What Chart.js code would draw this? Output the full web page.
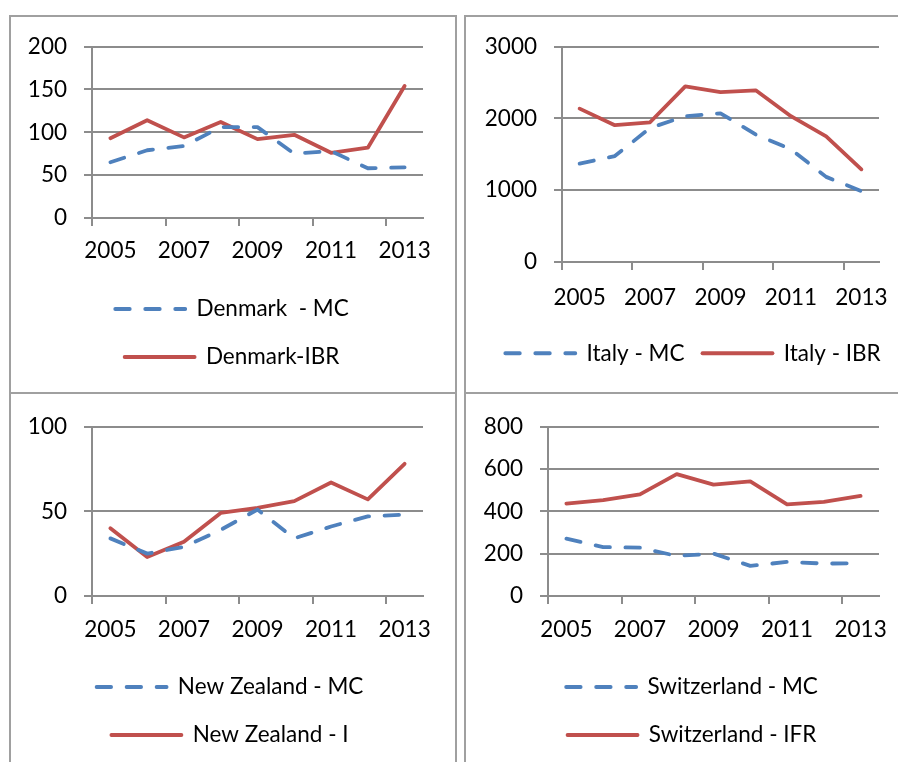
<!DOCTYPE html>
<html><head><meta charset="utf-8">
<script src="https://cdn.jsdelivr.net/npm/chart.js@4.4.0/dist/chart.umd.min.js"></script>
<style>
html,body{margin:0;padding:0;width:898px;height:762px;overflow:hidden;background:#fff;}
.ln{position:absolute;background:#a0a0a0;}
canvas{position:absolute;}
</style></head><body>
<div class="ln" style="left:9px;top:15px;width:448px;height:2px"></div>
<div class="ln" style="left:9px;top:15px;width:2px;height:747px"></div>
<div class="ln" style="left:455px;top:15px;width:2px;height:747px"></div>
<div class="ln" style="left:464px;top:15px;width:434px;height:2px"></div>
<div class="ln" style="left:464px;top:15px;width:2px;height:747px"></div>
<div class="ln" style="left:9px;top:392px;width:448px;height:2px"></div>
<div class="ln" style="left:464px;top:392px;width:434px;height:2px"></div>

<canvas id="c1" width="444" height="363" style="left:10px;top:16px"></canvas>
<canvas id="c2" width="454" height="359" style="left:466px;top:16px"></canvas>
<canvas id="c3" width="440" height="361" style="left:10px;top:396px"></canvas>
<canvas id="c4" width="452" height="361" style="left:466px;top:396px"></canvas>
<script>
// ---- data ----
const years = ['2005','2006','2007','2008','2009','2010','2011','2012','2013'];

const denmarkMC  = [65, 79, 84, 106, 106, 75, 78, 58, 59];
const denmarkIBR = [93, 114, 94, 112, 92, 97, 76, 82, 154];
const denmarkTicks = [0, 50, 100, 150, 200];

const italyMC  = [1370, 1475, 1865, 2030, 2070, 1775, 1570, 1185, 985];
const italyIBR = [2135, 1905, 1945, 2445, 2365, 2390, 2030, 1750, 1290];
const italyTicks = [0, 1000, 2000, 3000];

const nzMC = [34, 25, 29, 39, 51, 34, 41, 47, 48];
const nzI  = [40, 23, 32, 49, 52, 56, 67, 57, 78];
const nzTicks = [0, 50, 100];

const swMC  = [271, 231, 228, 189, 200, 142, 161, 153, 155];
const swIFR = [436, 452, 480, 575, 526, 541, 432, 444, 472];
const swTicks = [0, 200, 400, 600, 800];

// ---- style ----
const BLUE = '#4F81BD', RED = '#C0504D', GRID = '#8c8c8c';
const FONT = 'Lato', FS = 22.5, LW = 3.8;

function makeChart(id, o) {
  const ticks = o.ticks;
  new Chart(document.getElementById(id), {
    type: 'line',
    data: {
      labels: years,
      datasets: [
        {label: o.mcLabel, data: o.mc, borderColor: BLUE, backgroundColor: BLUE, borderWidth: LW,
         borderDash: [14.5, 15.5], borderCapStyle: 'round', borderJoinStyle: 'round',
         pointRadius: 0, tension: 0, fill: false},
        {label: o.rLabel, data: o.r, borderColor: RED, backgroundColor: RED, borderWidth: LW,
         borderDash: [], borderCapStyle: 'round', borderJoinStyle: 'round',
         pointRadius: 0, tension: 0, fill: false}
      ]
    },
    options: {
      responsive: false, animation: false, events: [],
      layout: {padding: {top: o.padTop, bottom: o.padBottom, left: 0, right: 0}},
      plugins: {
        legend: {position: 'bottom', align: 'center',
          labels: {usePointStyle: true, pointStyle: 'line', pointStyleWidth: 70,
                   padding: o.legPad, color: '#000', font: {family: FONT, size: FS},
                   generateLabels: chart => {
                     const items = Chart.defaults.plugins.legend.labels.generateLabels(chart);
                     return items.map(it => {
                       const ds = chart.data.datasets[it.datasetIndex];
                       return Object.assign(it, {
                         lineDash: ds.borderDash, lineCap: ds.borderCapStyle, lineJoin: ds.borderJoinStyle,
                         lineWidth: ds.borderWidth, strokeStyle: ds.borderColor, fillStyle: ds.borderColor,
                         pointStyle: 'line'
                       });
                     });
                   }}},
        tooltip: {enabled: false}
      },
      scales: {
        x: {
          type: 'category', offset: true,
          grid: {offset: true, drawOnChartArea: false, drawTicks: true, tickLength: 8, lineWidth: 2,
                 color: c => (c.index % 2 === 0 ? GRID : 'rgba(0,0,0,0)')},
          border: {display: true, color: GRID, width: 2},
          ticks: {autoSkip: false, maxRotation: 0, minRotation: 0, padding: o.xPad, color: '#000',
                  font: {family: FONT, size: FS},
                  callback: (v, i) => (i % 2 === 0 ? years[i] : '')},
          afterFit: s => { s.height = o.xHeight; }
        },
        y: {
          min: ticks[0], max: ticks[ticks.length - 1],
          grid: {color: GRID, lineWidth: 2, drawTicks: true, tickLength: 8},
          border: {display: true, color: GRID, width: 2},
          ticks: {stepSize: ticks[1] - ticks[0], padding: 17, color: '#000', font: {family: FONT, size: FS},
                  callback: v => String(v)},
          afterFit: s => { s.width = o.yWidth; }
        },
        pad: {
          type: 'linear', position: 'right', display: true,
          grid: {display: false}, border: {display: false}, ticks: {display: false},
          afterFit: s => { s.width = o.rightPad; }
        }
      }
    }
  });
}

makeChart('c1', {mcLabel: 'Denmark  - MC', rLabel: 'Denmark-IBR', mc: denmarkMC, r: denmarkIBR, ticks: denmarkTicks,
  yWidth: 82, rightPad: 31, padTop: 29, padBottom: 0.75, xPad: 11.5, xHeight: 54.25, legPad: 25.5});
makeChart('c2', {mcLabel: 'Italy - MC', rLabel: 'Italy - IBR', mc: italyMC, r: italyIBR, ticks: italyTicks,
  yWidth: 96, rightPad: 41, padTop: 29, padBottom: 0.5, xPad: 14, xHeight: 62, legPad: 18});
makeChart('c3', {mcLabel: 'New Zealand - MC', rLabel: 'New Zealand - I', mc: nzMC, r: nzI, ticks: nzTicks,
  yWidth: 82, rightPad: 27, padTop: 27, padBottom: 0.75, xPad: 12.5, xHeight: 54.25, legPad: 25.5});
makeChart('c4', {mcLabel: 'Switzerland - MC', rLabel: 'Switzerland - IFR', mc: swMC, r: swIFR, ticks: swTicks,
  yWidth: 82, rightPad: 39, padTop: 27, padBottom: 0.75, xPad: 12.5, xHeight: 54.25, legPad: 25.5});
</script>
</body></html>
